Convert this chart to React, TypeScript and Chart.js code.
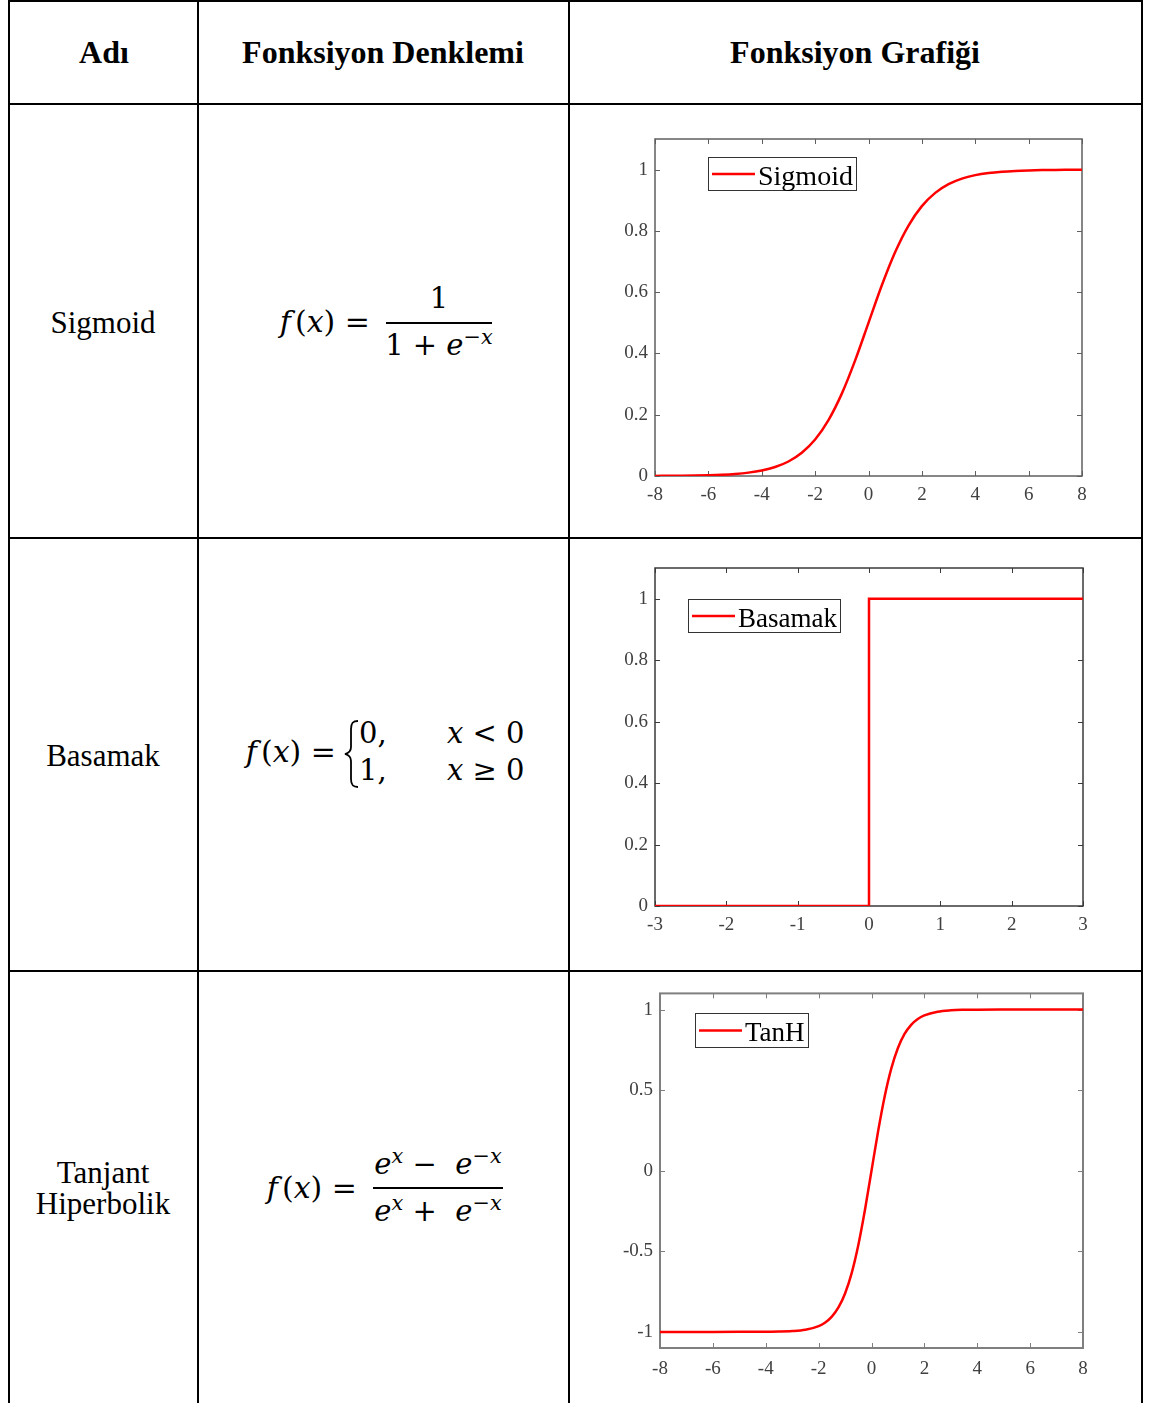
import React, { useEffect, useRef } from "react";
import { Chart, registerables } from "chart.js";

Chart.register(...registerables);

// ---------- data ----------
const sigmoidX = [-8, -7.5, -7, -6.5, -6, -5.5, -5, -4.5, -4, -3.5, -3, -2.5, -2, -1.5, -1, -0.5, 0, 0.5, 1, 1.5, 2, 2.5, 3, 3.5, 4, 4.5, 5, 5.5, 6, 6.5, 7, 7.5, 8];
const sigmoidY = [0.0003, 0.0006, 0.0009, 0.0015, 0.0025, 0.0041, 0.0067, 0.011, 0.018, 0.0293, 0.0474, 0.0759, 0.1192, 0.1824, 0.2689, 0.3775, 0.5, 0.6225, 0.7311, 0.8176, 0.8808, 0.9241, 0.9526, 0.9707, 0.982, 0.989, 0.9933, 0.9959, 0.9975, 0.9985, 0.9991, 0.9994, 0.9997];

const stepX = [-3, 0, 0, 3];
const stepY = [0, 0, 1, 1];

const tanhX = [-8, -7, -6, -5, -4, -3.5, -3, -2.5, -2, -1.75, -1.5, -1.25, -1, -0.75, -0.5, -0.25, 0, 0.25, 0.5, 0.75, 1, 1.25, 1.5, 1.75, 2, 2.5, 3, 3.5, 4, 5, 6, 7, 8];
const tanhY = [-1, -1, -1, -0.9999, -0.9993, -0.9982, -0.9951, -0.9866, -0.964, -0.9414, -0.9051, -0.8483, -0.7616, -0.6351, -0.4621, -0.2449, 0, 0.2449, 0.4621, 0.6351, 0.7616, 0.8483, 0.9051, 0.9414, 0.964, 0.9866, 0.9951, 0.9982, 0.9993, 0.9999, 1, 1, 1];

const sigmoidXTicks = [-8, -6, -4, -2, 0, 2, 4, 6, 8];
const sigmoidYTicks = [0, 0.2, 0.4, 0.6, 0.8, 1];
const stepXTicks = [-3, -2, -1, 0, 1, 2, 3];
const stepYTicks = [0, 0.2, 0.4, 0.6, 0.8, 1];
const tanhXTicks = [-8, -6, -4, -2, 0, 2, 4, 6, 8];
const tanhYTicks = [-1, -0.5, 0, 0.5, 1];

const seriesLabels = ["Sigmoid", "Basamak", "TanH"];

// ---------- styles ----------
const SERIF = '"Liberation Serif", "Times New Roman", serif';
const MATH = '"DejaVu Serif", serif';

const framePlugin = {
  id: "frame",
  beforeDatasetsDraw(chart: any, _args: any, opts: any) {
    const { ctx, chartArea: a, scales } = chart;
    ctx.save();
    ctx.strokeStyle = opts.color;
    ctx.lineWidth = opts.width;
    ctx.strokeRect(a.left, a.top, a.right - a.left, a.bottom - a.top);
    const L = opts.tickLen;
    ctx.lineWidth = 1;
    ctx.beginPath();
    scales.x.ticks.forEach((t: any) => {
      const px = Math.round(scales.x.getPixelForValue(t.value)) + 0.5;
      ctx.moveTo(px, a.bottom);
      ctx.lineTo(px, a.bottom - L);
      ctx.moveTo(px, a.top);
      ctx.lineTo(px, a.top + L);
    });
    scales.y.ticks.forEach((t: any) => {
      const py = Math.round(scales.y.getPixelForValue(t.value)) + 0.5;
      ctx.moveTo(a.left, py);
      ctx.lineTo(a.left + L, py);
      ctx.moveTo(a.right, py);
      ctx.lineTo(a.right - L, py);
    });
    ctx.stroke();
    ctx.restore();
  },
};

const boxLegendPlugin = {
  id: "boxLegend",
  afterDraw(chart: any, _args: any, opts: any) {
    const { ctx, chartArea: a } = chart;
    const ds = chart.data.datasets[0];
    ctx.save();
    ctx.font = `${opts.fontSize}px ${SERIF}`;
    const tw = ctx.measureText(ds.label).width;
    const x0 = Math.round(a.left + opts.dx);
    const y0 = Math.round(a.top + opts.dy);
    const h = opts.height;
    const w = Math.round(4 + 43 + 3 + tw + 3);
    ctx.fillStyle = "#ffffff";
    ctx.fillRect(x0, y0, w, h);
    ctx.strokeStyle = "#333333";
    ctx.lineWidth = 1;
    ctx.strokeRect(x0 + 0.5, y0 + 0.5, w, h);
    ctx.strokeStyle = ds.borderColor;
    ctx.lineWidth = 2.5;
    ctx.beginPath();
    ctx.moveTo(x0 + 4, y0 + h / 2 + 0.5);
    ctx.lineTo(x0 + 47, y0 + h / 2 + 0.5);
    ctx.stroke();
    ctx.fillStyle = "#000000";
    ctx.textBaseline = "middle";
    ctx.fillText(ds.label, x0 + 50, y0 + h / 2 + 4);
    ctx.restore();
  },
};

type Spec = {
  label: string;
  xs: number[];
  ys: number[];
  xTicks: number[];
  yTicks: number[];
  xMin: number;
  xMax: number;
  yMin: number;
  yMax: number;
  smooth: boolean;
  yAxisWidth: number;
  xPad: number;
  padding: { left: number; right: number; top: number; bottom: number };
  frameColor: string;
  frameWidth: number;
  legend: { dx: number; dy: number; height: number; fontSize: number };
  left: number;
  top: number;
  width: number;
  height: number;
};

function MiniChart({ spec }: { spec: Spec }) {
  const ref = useRef<HTMLCanvasElement | null>(null);
  useEffect(() => {
    if (!ref.current) return;
    const tickFont = { family: SERIF, size: 19 };
    const chart = new Chart(ref.current, {
      type: "line",
      data: {
        datasets: [
          {
            label: spec.label,
            data: spec.xs.map((x, i) => ({ x, y: spec.ys[i] })),
            borderColor: "#ff0000",
            borderWidth: 2.5,
            pointRadius: 0,
            fill: false,
            tension: 0,
            ...(spec.smooth ? { cubicInterpolationMode: "monotone" } : {}),
          } as any,
        ],
      },
      options: {
        animation: false,
        responsive: false,
        maintainAspectRatio: false,
        layout: { padding: spec.padding },
        plugins: {
          legend: { display: false },
          tooltip: { enabled: false },
          frame: { color: spec.frameColor, width: spec.frameWidth, tickLen: 5 },
          boxLegend: spec.legend,
        } as any,
        scales: {
          x: {
            type: "linear",
            min: spec.xMin,
            max: spec.xMax,
            afterBuildTicks: (s: any) => {
              s.ticks = spec.xTicks.map((v) => ({ value: v }));
            },
            afterFit: (s: any) => {
              s.height = 30;
            },
            grid: { display: false, drawTicks: false },
            border: { display: false },
            ticks: {
              padding: spec.xPad,
              autoSkip: false,
              maxRotation: 0,
              minRotation: 0,
              color: "#404040",
              font: tickFont,
              callback: (v: any) => String(v),
            },
          },
          y: {
            type: "linear",
            min: spec.yMin,
            max: spec.yMax,
            afterBuildTicks: (s: any) => {
              s.ticks = spec.yTicks.map((v) => ({ value: v }));
            },
            afterFit: (s: any) => {
              s.width = spec.yAxisWidth;
            },
            grid: { display: false, drawTicks: false },
            border: { display: false },
            ticks: {
              padding: 7,
              autoSkip: false,
              color: "#404040",
              font: tickFont,
              callback: (v: any) => String(v),
            },
          },
        },
      },
      plugins: [framePlugin, boxLegendPlugin],
    });
    return () => chart.destroy();
  }, [spec]);
  return (
    <canvas
      ref={ref}
      width={spec.width}
      height={spec.height}
      style={{ position: "absolute", left: spec.left, top: spec.top, width: spec.width, height: spec.height, display: "block" }}
    />
  );
}

const specs: Spec[] = [
  {
    label: seriesLabels[0], xs: sigmoidX, ys: sigmoidY, xTicks: sigmoidXTicks, yTicks: sigmoidYTicks,
    xMin: -8, xMax: 8, yMin: 0, yMax: 1.1, smooth: true, yAxisWidth: 80, xPad: 8,
    padding: { left: 0, right: 53, top: 29, bottom: 24 },
    frameColor: "#5f5f5f", frameWidth: 1.5,
    legend: { dx: 53, dy: 18, height: 33, fontSize: 28 },
    left: 575, top: 110, width: 560, height: 420,
  },
  {
    label: seriesLabels[1], xs: stepX, ys: stepY, xTicks: stepXTicks, yTicks: stepYTicks,
    xMin: -3, xMax: 3, yMin: 0, yMax: 1.1, smooth: false, yAxisWidth: 80, xPad: 8,
    padding: { left: 0, right: 52, top: 26, bottom: 26 },
    frameColor: "#3a3a3a", frameWidth: 1.5,
    legend: { dx: 33, dy: 31, height: 33, fontSize: 27 },
    left: 575, top: 542, width: 560, height: 420,
  },
  {
    label: seriesLabels[2], xs: tanhX, ys: tanhY, xTicks: tanhXTicks, yTicks: tanhYTicks,
    xMin: -8, xMax: 8, yMin: -1.1, yMax: 1.1, smooth: true, yAxisWidth: 85, xPad: 10,
    padding: { left: 0, right: 52, top: 16, bottom: 22 },
    frameColor: "#7f7f7f", frameWidth: 2,
    legend: { dx: 35, dy: 20, height: 34, fontSize: 27 },
    left: 575, top: 975, width: 560, height: 425,
  },
];

function Txt({ x, y, size, bold, align = "center", family = SERIF, children }: any) {
  const tx = align === "center" ? "-50%" : align === "right" ? "-100%" : "0";
  return (
    <div
      style={{
        position: "absolute",
        left: x,
        top: y,
        transform: `translate(${tx}, -50%)`,
        fontSize: size,
        fontWeight: bold ? 700 : 400,
        fontFamily: family,
        whiteSpace: "pre",
        lineHeight: 1,
        color: "#000",
      }}
    >
      {children}
    </div>
  );
}

const Sup = ({ children }: any) => (
  <span style={{ fontSize: "0.72em", position: "relative", top: "-0.55em" }}>{children}</span>
);

const F = () => (
  <>
    <i style={{ marginRight: "0.14em" }}>f</i>(<i>x</i>) =
  </>
);

function HLine({ x1, x2, y }: any) {
  return <div style={{ position: "absolute", left: x1, top: y - 1, width: x2 - x1, height: 2, background: "#000" }} />;
}
function VLine({ x, y1, y2 }: any) {
  return <div style={{ position: "absolute", left: x - 1, top: y1, width: 2, height: y2 - y1, background: "#000" }} />;
}

export default function App() {
  const fs = 29;
  return (
    <div style={{ position: "absolute", left: 0, top: 0, width: 1152, height: 1403, overflow: "hidden", background: "#fff" }}>
      {/* table grid */}
      <HLine x1={8} x2={1143} y={1} />
      <HLine x1={8} x2={1143} y={104} />
      <HLine x1={8} x2={1143} y={538} />
      <HLine x1={8} x2={1143} y={971} />
      <VLine x={9} y1={0} y2={1403} />
      <VLine x={198} y1={0} y2={1403} />
      <VLine x={569} y1={0} y2={1403} />
      <VLine x={1142} y1={0} y2={1403} />

      {/* header */}
      <Txt x={104} y={52} size={32} bold>Adı</Txt>
      <Txt x={383} y={52} size={32} bold>Fonksiyon Denklemi</Txt>
      <Txt x={855} y={52} size={32} bold>Fonksiyon Grafiği</Txt>

      {/* row names */}
      <Txt x={103} y={322} size={31}>Sigmoid</Txt>
      <Txt x={103} y={755} size={31}>Basamak</Txt>
      <Txt x={103} y={1172} size={31}>Tanjant</Txt>
      <Txt x={103} y={1203} size={31}>Hiperbolik</Txt>

      {/* sigmoid formula */}
      <Txt x={370} y={322} size={30} align="right" family={MATH}>
        <F />
      </Txt>
      <Txt x={439} y={298} size={fs} family={MATH}>1</Txt>
      <div style={{ position: "absolute", left: 386, top: 322, width: 106, height: 2, background: "#000" }} />
      <Txt x={439} y={345} size={fs} family={MATH}>
        1 + <i>e</i><Sup>−<i>x</i></Sup>
      </Txt>

      {/* basamak formula */}
      <Txt x={336} y={752} size={30} align="right" family={MATH}>
        <F />
      </Txt>
      <svg style={{ position: "absolute", left: 343, top: 720 }} width={18} height={68} viewBox="0 0 18 68">
        <path d="M15 1 C10 1 8 3 8 9 L8 27 C8 31 6 33 2 34 C6 35 8 37 8 41 L8 59 C8 65 10 67 15 67" fill="none" stroke="#000" strokeWidth={1.8} />
      </svg>
      <Txt x={359} y={733} size={fs} align="left" family={MATH}>0,</Txt>
      <Txt x={359} y={770} size={fs} align="left" family={MATH}>1,</Txt>
      <Txt x={447} y={733} size={fs} align="left" family={MATH}>
        <i>x</i> &lt; 0
      </Txt>
      <Txt x={447} y={770} size={fs} align="left" family={MATH}>
        <i>x</i> ≥ 0
      </Txt>

      {/* tanh formula */}
      <Txt x={357} y={1188} size={30} align="right" family={MATH}>
        <F />
      </Txt>
      <Txt x={438} y={1164} size={fs} family={MATH}>
        <i>e</i><Sup><i>x</i></Sup>{" −  "}<i>e</i><Sup>−<i>x</i></Sup>
      </Txt>
      <div style={{ position: "absolute", left: 373, top: 1187, width: 130, height: 2, background: "#000" }} />
      <Txt x={438} y={1211} size={fs} family={MATH}>
        <i>e</i><Sup><i>x</i></Sup>{" +  "}<i>e</i><Sup>−<i>x</i></Sup>
      </Txt>

      {specs.map((s, i) => (
        <MiniChart key={i} spec={s} />
      ))}
    </div>
  );
}
